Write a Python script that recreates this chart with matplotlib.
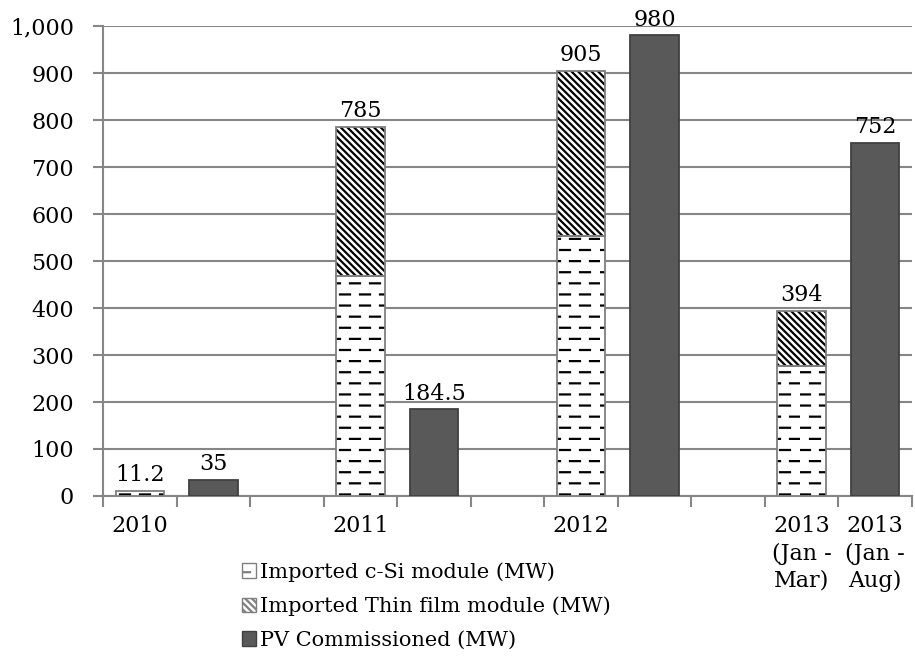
import numpy as np
import matplotlib
matplotlib.use('Agg')
import matplotlib.pyplot as plt
from matplotlib import hatch as mhatch
from matplotlib.patches import Patch
from matplotlib.ticker import FuncFormatter

# data: one slot per bar, blanks between the year groups
slots = ['2010', '', '', '2011', '', '', '2012', '', '', '2013\n(Jan -\nMar)', '2013\n(Jan -\nAug)']
csi = [11.2, 0, 0, 468, 0, 0, 553, 0, 0, 277, 0]
thin = [0, 0, 0, 317, 0, 0, 352, 0, 0, 117, 0]
pv = [0, 35, 0, 0, 184.5, 0, 0, 980, 0, 0, 752]
import_labels = ['11.2', '', '', '785', '', '', '905', '', '', '394', '']
pv_labels = ['', '35', '', '', '184.5', '', '', '980', '', '', '752']


class DashedHorizontal(mhatch.HatchPatternBase):
    '''staggered short dashes, used instead of the plain "-" hatch'''
    def __init__(self, hatch, density):
        self.num_rows = 9 if '-' in hatch else 0
        self.num_dashes = 5
        self.num_vertices = self.num_rows * self.num_dashes * 2

    def set_vertices_and_codes(self, vertices, codes):
        k = 0
        for r in range(self.num_rows):
            y = (r + 0.5) / self.num_rows
            off = 0.0 if r % 2 == 0 else 0.5
            for d in range(self.num_dashes):
                x0 = (d + off) / self.num_dashes
                x1 = x0 + 0.5 / self.num_dashes
                vertices[k] = (x0, y)
                vertices[k + 1] = (x1, y)
                codes[k] = 1  # MOVETO
                codes[k + 1] = 2  # LINETO
                k += 2


mhatch._hatch_types = [DashedHorizontal if t is mhatch.HorizontalHatch else t
                       for t in mhatch._hatch_types]

plt.rcParams['font.family'] = 'DejaVu Serif'
plt.rcParams['hatch.linewidth'] = 1.6

FS = 16
fig = plt.figure(figsize=(9.15, 6.6), dpi=100)
ax = fig.add_axes([0.1126, 0.2485, 0.884, 0.712])

x = np.arange(len(slots))
w = 0.66
grid_c = '#868686'
edge_c = '#7f7f7f'
diag = '\\' * 5


def nz(vals):
    return [v if v > 0 else np.nan for v in vals]


csi_b = nz(csi)
thin_b = nz(thin)
pv_b = nz(pv)

# hatch drawn in black, outline drawn separately in grey
ax.bar(x, csi_b, w, color='white', edgecolor='black', hatch='-', linewidth=0, zorder=3)
ax.bar(x, thin_b, w, bottom=csi, color='white', edgecolor='black', hatch=diag, linewidth=0, zorder=3)
ax.bar(x, csi_b, w, fill=False, edgecolor=edge_c, linewidth=1.3, zorder=4)
ax.bar(x, thin_b, w, bottom=csi, fill=False, edgecolor=edge_c, linewidth=1.3, zorder=4)
ax.bar(x, pv_b, w, color='#595959', edgecolor='#404040', linewidth=1.3, zorder=3)

tot = np.array(csi) + np.array(thin)
for i in range(len(slots)):
    if import_labels[i]:
        ax.text(x[i], tot[i] + 10, import_labels[i], ha='center', va='bottom', fontsize=FS)
    if pv_labels[i]:
        ax.text(x[i], pv[i] + 10, pv_labels[i], ha='center', va='bottom', fontsize=FS)

ax.set_xlim(-0.5, len(slots) - 0.5)
ax.set_ylim(0, 1000)
ax.set_yticks(np.arange(0, 1001, 100))
ax.yaxis.set_major_formatter(FuncFormatter(lambda v, p: f'{int(v):,}'))
ax.yaxis.grid(True, color=grid_c, linewidth=1.5, zorder=0)
ax.set_axisbelow(True)

ax.set_xticks(x)
ax.set_xticklabels(slots, fontsize=FS, linespacing=1.3, va='top')
ax.set_xticks(np.arange(-0.5, len(slots)), minor=True)
ax.tick_params(axis='x', which='major', length=0, pad=14)
ax.tick_params(axis='x', which='minor', length=8, width=1.5, color=grid_c, direction='out')
ax.tick_params(axis='y', length=7, width=1.5, color=grid_c, labelsize=FS, pad=14)

for s in ['top', 'right']:
    ax.spines[s].set_visible(False)
for s in ['left', 'bottom']:
    ax.spines[s].set_color(grid_c)
    ax.spines[s].set_linewidth(1.5)

handles = [Patch(facecolor='white', edgecolor=edge_c, hatch='-'),
           Patch(facecolor='white', edgecolor=edge_c, hatch=diag),
           Patch(facecolor='#595959', edgecolor='#404040')]
names = ['Imported c-Si module (MW)', 'Imported Thin film module (MW)', 'PV Commissioned (MW)']
fig.legend(handles, names, loc='upper left', bbox_to_anchor=(0.264, 0.148), frameon=False,
           fontsize=15, handlelength=0.7, handleheight=0.7, handletextpad=0.2,
           labelspacing=0.7, borderpad=0, borderaxespad=0)

fig.savefig('out.png', dpi=100)
